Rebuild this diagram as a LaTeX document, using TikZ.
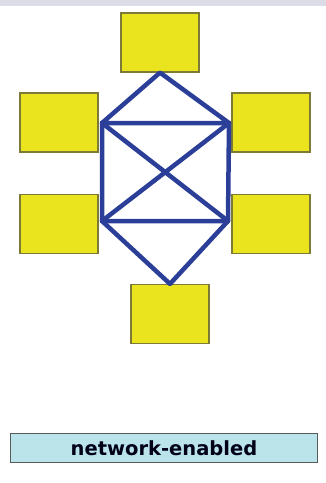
\documentclass[tikz,border=0pt]{standalone}
\usepackage{fontspec}
\setsansfont{DejaVu Sans}
\usetikzlibrary{positioning}
\definecolor{hostyellow}{HTML}{EAE41E}
\definecolor{hostedge}{HTML}{7C7A36}
\definecolor{linkblue}{HTML}{2B3F98}
\definecolor{bandgray}{HTML}{DCDCE6}
\definecolor{tagcyan}{HTML}{BAE3EA}

\begin{document}
\begin{tikzpicture}[x=1pt, y=-1pt,
    host/.style = {draw=hostedge, fill=hostyellow, line width=1.2pt,
                   minimum width=78pt, minimum height=59pt, inner sep=0pt},
    link/.style = {draw=linkblue, line width=4.5pt, line join=round, line cap=round}]
    \useasboundingbox (0,0) rectangle (326,483);
    \fill[bandgray] (0,0) rectangle (326,6);

    % hosts
    \node[host] (top) at (160,42.5) {};
    \node[host] (lu) at (59,122.5) {};
    \node[host] (ru) at (271,122.5) {};
    \node[host] (ll) at (59,224) {};
    \node[host] (rl) at (271,224) {};
    \node[host] (bot) at (170,314) {};

    % mesh corners
    \coordinate (a) at (102,123);
    \coordinate (b) at (229,123);
    \coordinate (c) at (102,221);
    \coordinate (d) at (228,221);

    \path[link] (top.south) -- (a) -- (b) -- cycle;
    \path[link] (a) -- (c) -- (d) -- (b);
    \path[link] (a) -- (d);
    \path[link] (b) -- (c);
    \path[link] (c) -- (bot.north) -- (d);

    \node[draw=gray!70!black, fill=tagcyan, line width=1pt,
          minimum width=307pt, minimum height=29pt, inner sep=0pt,
          font=\sffamily\bfseries\fontsize{19.5}{21}\selectfont,
          text=black!90!blue] (tag) at (164,448) {network-enabled};
\end{tikzpicture}
\end{document}
